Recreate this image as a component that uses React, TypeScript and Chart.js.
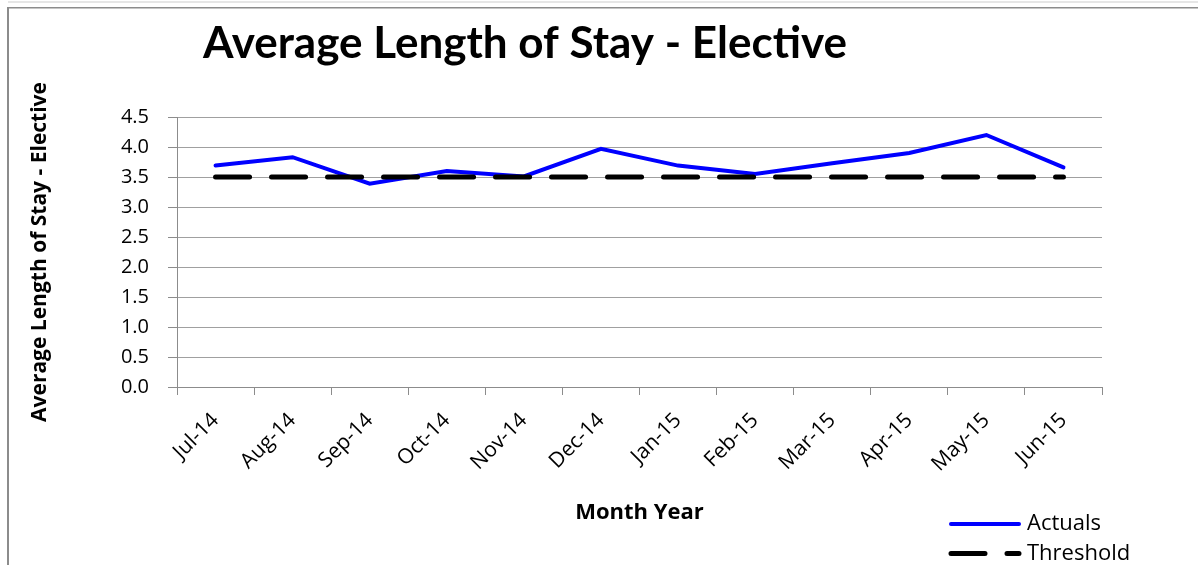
import React, { useEffect, useRef } from "react";
import { Chart, registerables } from "chart.js";

Chart.register(...registerables);

const months = [
  "Jul-14", "Aug-14", "Sep-14", "Oct-14", "Nov-14", "Dec-14",
  "Jan-15", "Feb-15", "Mar-15", "Apr-15", "May-15", "Jun-15",
];
const actuals = [3.69, 3.83, 3.39, 3.6, 3.51, 3.97, 3.69, 3.55, 3.73, 3.9, 4.2, 3.66];
const threshold = [3.5, 3.5, 3.5, 3.5, 3.5, 3.5, 3.5, 3.5, 3.5, 3.5, 3.5, 3.5];
const yMin = 0;
const yMax = 4.5;
const yStep = 0.5;

const chartTitle = "Average Length of Stay - Elective";
const yAxisTitle = "Average Length of Stay - Elective";
const xAxisTitle = "Month Year";
const seriesNames = ["Actuals", "Threshold"];

const W = 1198;
const H = 565;

const framePlugin = {
  id: "frame",
  beforeDraw(chart: any) {
    const ctx = chart.ctx;
    ctx.save();
    ctx.fillStyle = "#ffffff";
    ctx.fillRect(0, 0, W, H);
    ctx.fillStyle = "#e6e6e6";
    ctx.fillRect(8, 1, W - 8, 2);
    ctx.fillStyle = "#8c8c8c";
    ctx.fillRect(7, 7, W - 7, 1.5);
    ctx.fillRect(7, 7, 2, H - 7);
    ctx.restore();
  },
};

const titlePlugin = {
  id: "customTitle",
  afterDraw(chart: any) {
    const ctx = chart.ctx;
    ctx.save();
    ctx.font = "bold 44px Lato";
    ctx.fillStyle = "#000000";
    ctx.textAlign = "left";
    ctx.textBaseline = "alphabetic";
    ctx.fillText(chartTitle, 203, 58);
    ctx.restore();
  },
};

const legendPlugin = {
  id: "customLegend",
  afterDraw(chart: any) {
    const ctx = chart.ctx;
    ctx.save();
    chart.data.datasets.forEach((ds: any, i: number) => {
      const y = 524 + i * 29.5;
      ctx.beginPath();
      ctx.strokeStyle = ds.borderColor;
      ctx.lineWidth = ds.borderWidth;
      ctx.lineCap = ds.borderCapStyle || "butt";
      ctx.setLineDash(ds.borderDash || []);
      ctx.moveTo(951, y);
      ctx.lineTo(1019, y);
      ctx.stroke();
      ctx.setLineDash([]);
      ctx.font = "22px 'Open Sans'";
      ctx.fillStyle = "#000000";
      ctx.textAlign = "left";
      ctx.textBaseline = "middle";
      ctx.fillText(ds.label, 1027, y);
    });
    ctx.restore();
  },
};

export default function App() {
  const ref = useRef<HTMLCanvasElement | null>(null);

  useEffect(() => {
    if (!ref.current) return;
    const chart = new Chart(ref.current, {
      type: "line",
      data: {
        labels: months,
        datasets: [
          {
            label: seriesNames[0],
            data: actuals,
            borderColor: "#0000ff",
            backgroundColor: "#0000ff",
            borderWidth: 4,
            pointRadius: 0,
            tension: 0,
            borderCapStyle: "round",
            borderJoinStyle: "miter",
            order: 1,
          },
          {
            label: seriesNames[1],
            data: threshold,
            borderColor: "#000000",
            backgroundColor: "#000000",
            borderWidth: 5,
            borderDash: [34, 22],
            borderCapStyle: "round",
            pointRadius: 0,
            tension: 0,
            order: 0,
          },
        ],
      },
      options: {
        responsive: false,
        animation: false,
        devicePixelRatio: 1,
        layout: { padding: { top: 117, right: 96, bottom: 0, left: 0 } },
        plugins: {
          legend: { display: false },
          title: { display: false },
          tooltip: { enabled: false },
        },
        scales: {
          x: {
            type: "category",
            offset: true,
            afterFit(scale: any) {
              scale.height = 178;
            },
            grid: {
              offset: true,
              drawOnChartArea: false,
              drawTicks: true,
              tickLength: 8,
              color: "#8c8c8c",
              lineWidth: 1,
            },
            border: { display: true, color: "#8c8c8c", width: 1 },
            ticks: {
              minRotation: 45,
              maxRotation: 45,
              autoSkip: false,
              padding: 13,
              color: "#000000",
              font: { family: "'Open Sans'", size: 21 },
            },
            title: {
              display: true,
              text: xAxisTitle,
              color: "#000000",
              font: { family: "'Open Sans'", size: 22, weight: "bold" },
              padding: { top: 0, bottom: 39 },
            },
          },
          y: {
            min: yMin,
            max: yMax,
            afterFit(scale: any) {
              scale.width = 177;
            },
            grid: {
              color: "#a0a0a0",
              lineWidth: 1,
              drawTicks: true,
              tickLength: 9,
              tickColor: "#8c8c8c",
            },
            border: { display: true, color: "#8c8c8c", width: 1 },
            ticks: {
              stepSize: yStep,
              padding: 19,
              color: "#000000",
              font: { family: "'Open Sans'", size: 20 },
              callback: (v: any) => Number(v).toFixed(1),
            },
            title: {
              display: true,
              text: yAxisTitle,
              color: "#000000",
              font: { family: "'Open Sans'", size: 21, weight: "bold" },
              padding: { top: 27, bottom: 0 },
            },
          },
        },
      },
      plugins: [framePlugin, titlePlugin, legendPlugin],
    } as any);
    return () => chart.destroy();
  }, []);

  return (
    <div style={{ position: "fixed", left: 0, top: 0, width: W, height: H }}>
      <canvas
        ref={ref}
        width={W}
        height={H}
        style={{ display: "block", width: W, height: H }}
      />
    </div>
  );
}
